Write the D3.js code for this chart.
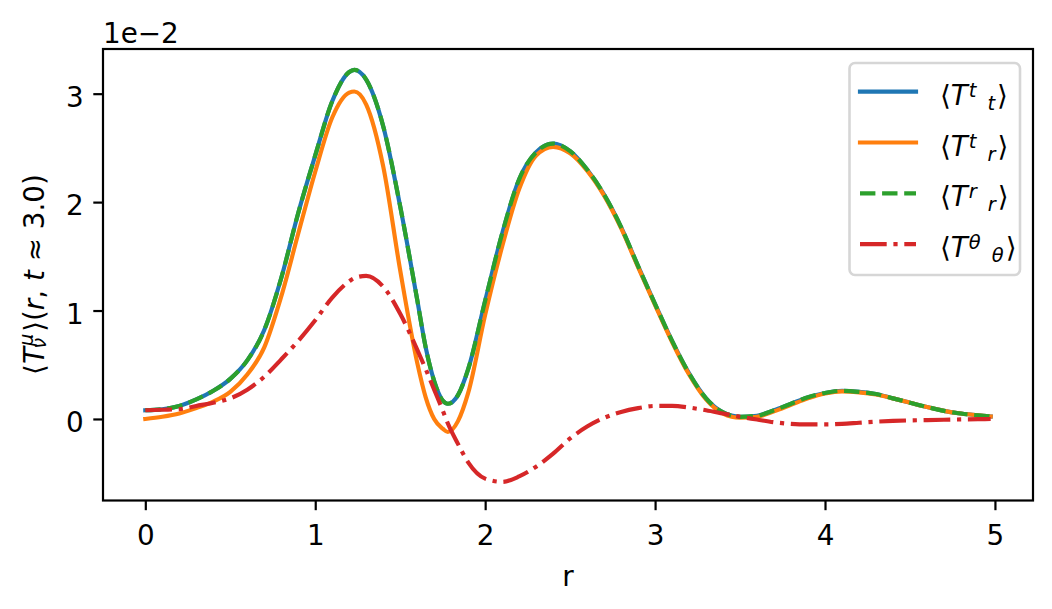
<!DOCTYPE html>
<html><head><meta charset="utf-8">
<script src="https://cdn.jsdelivr.net/npm/d3@7"></script>
<style>
body{margin:0;background:#fff}
text{font-family:"DejaVu Sans",sans-serif;fill:#000}
</style>
</head><body>
<svg id="c" width="1052" height="609"></svg>
<script>
// ---- data (values in units of 1e-2) ----
const r = [0,0.1,0.2,0.3,0.4,0.5,0.6,0.7,0.8,0.9,1.0,1.1,1.2,1.23,1.3,1.4,1.5,1.6,1.65,1.7,1.75,1.78,1.84,1.9,2.0,2.1,2.2,2.3,2.4,2.5,2.6,2.7,2.8,2.9,3.0,3.1,3.2,3.3,3.4,3.5,3.6,3.7,3.8,3.9,4.0,4.1,4.2,4.3,4.4,4.5,4.6,4.7,4.8,4.9,4.975];
const Ttt = [0.08,0.09,0.12,0.18,0.26,0.37,0.54,0.82,1.30,1.90,2.43,2.93,3.20,3.22,3.13,2.70,1.96,1.10,0.66,0.35,0.17,0.14,0.22,0.46,1.09,1.71,2.21,2.46,2.54,2.47,2.30,2.07,1.77,1.41,1.06,0.72,0.42,0.19,0.06,0.02,0.03,0.08,0.14,0.20,0.24,0.26,0.25,0.23,0.19,0.15,0.11,0.075,0.05,0.033,0.023];
const Ttr = [0.0,0.02,0.05,0.10,0.16,0.25,0.41,0.66,1.13,1.71,2.28,2.78,3.01,3.02,2.90,2.33,1.37,0.52,0.20,0.0,-0.09,-0.12,-0.02,0.24,0.96,1.59,2.12,2.43,2.51,2.45,2.29,2.06,1.76,1.40,1.05,0.71,0.41,0.18,0.05,0.012,0.02,0.07,0.13,0.19,0.235,0.255,0.245,0.225,0.19,0.15,0.11,0.075,0.05,0.033,0.023];
const Trr = [0.08,0.09,0.12,0.18,0.26,0.37,0.54,0.82,1.30,1.90,2.43,2.93,3.20,3.22,3.13,2.70,1.96,1.10,0.66,0.35,0.17,0.14,0.22,0.46,1.09,1.71,2.21,2.46,2.54,2.47,2.30,2.07,1.77,1.41,1.06,0.72,0.42,0.19,0.06,0.02,0.03,0.08,0.14,0.20,0.24,0.26,0.25,0.23,0.19,0.15,0.11,0.075,0.05,0.033,0.023];
const Tthth = [0.08,0.085,0.09,0.12,0.15,0.19,0.27,0.39,0.55,0.72,0.91,1.12,1.27,1.30,1.32,1.22,0.97,0.64,0.46,0.27,0.08,-0.04,-0.23,-0.40,-0.55,-0.58,-0.53,-0.44,-0.32,-0.18,-0.07,0.01,0.065,0.10,0.12,0.12,0.105,0.08,0.05,0.02,-0.005,-0.03,-0.045,-0.05,-0.05,-0.045,-0.035,-0.025,-0.018,-0.013,-0.01,-0.007,-0.004,-0.002,0.0];
const xTicks = [0,1,2,3,4,5];
const yTicks = [0,1,2,3];
const legendSup = ["t","t","r","θ"];
const legendSub = ["t","r","r","θ"];
const colors = ["#1f77b4","#ff7f0e","#2ca02c","#d62728"];
const dashes = [null,null,"15.4,6.7","26.7,6.7,4.2,6.7"];

const series = [Ttt,Ttr,Trr,Tthth];

// ---- layout ----
const svg = d3.select("#c");
const L=103, R=1033, T=49, B=500.5;
const fs = 27.8;
const x = d3.scaleLinear([-0.249,5.224],[L,R]);
const y = d3.scaleLinear([-0.752,3.412],[B,T]);

// lines
const line = d3.line().x(d=>x(d[0])).y(d=>y(d[1])).curve(d3.curveMonotoneX);
const g = svg.append("g");
series.forEach((s,i)=>{
  g.append("path")
    .attr("d", line(r.map((rv,k)=>[rv,s[k]])))
    .attr("fill","none")
    .attr("stroke",colors[i])
    .attr("stroke-width",4.17)
    .attr("stroke-linejoin","round")
    .attr("stroke-linecap", dashes[i] ? "butt" : "square")
    .attr("stroke-dasharray", dashes[i]);
});

// axes
const xa = svg.append("g").attr("transform",`translate(0,${B})`)
  .call(d3.axisBottom(x).tickValues(xTicks).tickFormat(d3.format("d")).tickSize(9.7).tickPadding(15));
const ya = svg.append("g").attr("transform",`translate(${L},0)`)
  .call(d3.axisLeft(y).tickValues(yTicks).tickFormat(d3.format("d")).tickSize(9.7).tickPadding(9.7));
[xa,ya].forEach(a=>{
  a.select(".domain").remove();
  a.selectAll(".tick line").attr("stroke","#000").attr("stroke-width",2.2);
  a.selectAll(".tick text").attr("font-size",fs).attr("font-family","DejaVu Sans").attr("fill","#000");
});
ya.selectAll(".tick text").attr("dy","0.45em");

// frame
svg.append("rect").attr("x",L).attr("y",T).attr("width",R-L).attr("height",B-T)
  .attr("fill","none").attr("stroke","#000").attr("stroke-width",2.2);

// offset text
svg.append("text").attr("x",L).attr("y",42.5).attr("font-size",fs).text("1e\u22122");

// x label
svg.append("text").attr("x",(L+R)/2).attr("y",586).attr("text-anchor","middle").attr("font-size",fs).text("r");

// y label
const yl = svg.append("text").attr("transform","translate(43.5,274.5) rotate(-90)")
  .attr("text-anchor","middle").attr("font-size",fs);
const sfs = fs*0.7;
yl.append("tspan").text("\u27E8");
yl.append("tspan").attr("font-style","italic").text("T");
yl.append("tspan").attr("font-style","italic").attr("font-size",sfs).attr("dx",1).attr("dy",-11).text("μ");
yl.append("tspan").attr("font-style","italic").attr("font-size",sfs).attr("dx",-15).attr("dy",13).text("ν");
yl.append("tspan").attr("dx",6).attr("dy",-2).text("\u27E9(");
yl.append("tspan").attr("font-style","italic").text("r");
yl.append("tspan").text(", ");
yl.append("tspan").attr("font-style","italic").text("t");
yl.append("tspan").text(" \u2248 3.0)");

// legend
const lg = svg.append("g");
lg.append("rect").attr("x",849.5).attr("y",63).attr("width",170.5).attr("height",212).attr("rx",5.5)
  .attr("fill","#fff").attr("fill-opacity",0.8).attr("stroke","#d6d6d6").attr("stroke-width",2.6);
const rowY = i => 91.7 + i*50.8;
colors.forEach((c,i)=>{
  lg.append("line").attr("x1",860).attr("x2",916).attr("y1",rowY(i)).attr("y2",rowY(i))
    .attr("stroke",c).attr("stroke-width",4.17)
    .attr("stroke-linecap", dashes[i] ? "butt" : "square")
    .attr("stroke-dasharray", dashes[i]);
  const t = lg.append("text").attr("x",940).attr("y",rowY(i)+13).attr("font-size",fs);
  t.append("tspan").text("\u27E8");
  t.append("tspan").attr("font-style","italic").text("T");
  t.append("tspan").attr("font-style","italic").attr("font-size",sfs).attr("dx",1).attr("dy",-8).text(legendSup[i]);
  t.append("tspan").attr("font-style","italic").attr("font-size",sfs).attr("dx",11).attr("dy",13).text(legendSub[i]);
  t.append("tspan").attr("dx",2).attr("dy",-5).text("\u27E9");
});
</script>
</body></html>
